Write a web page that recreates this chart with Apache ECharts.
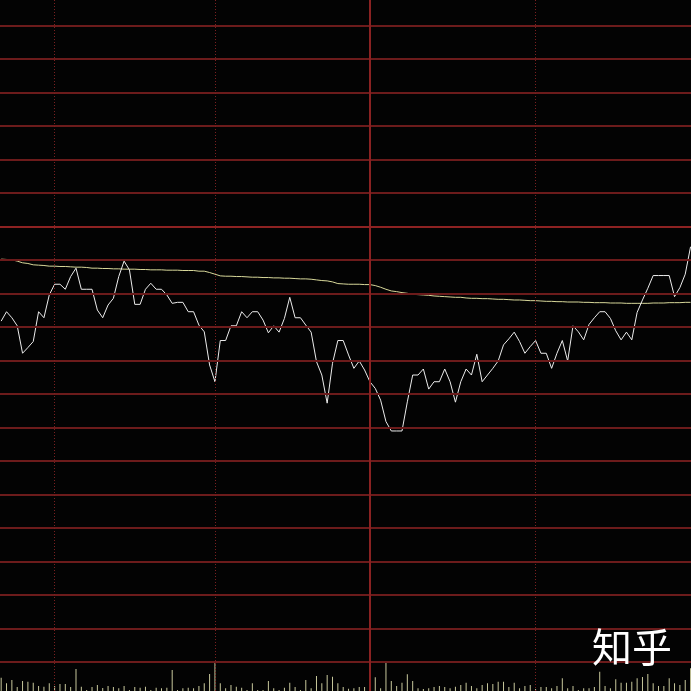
<!DOCTYPE html>
<html><head><meta charset="utf-8">
<script src="https://cdn.jsdelivr.net/npm/echarts@6/dist/echarts.min.js"></script>
<style>html,body{margin:0;padding:0;background:#000;}#c{width:691px;height:691px;}</style>
</head><body><div id="c"></div>
<script>
// minute-by-minute price (grid units relative to previous close = 0)
const price = [
 -2.83,-2.55,-2.73,-2.97,-3.79,-3.62,-3.44,-2.55,-2.73,-2.05,
 -1.73,-1.73,-1.88,-1.50,-1.25,-1.88,-1.88,-1.88,-2.50,-2.73,
 -2.35,-2.15,-1.50,-1.04,-1.30,-2.33,-2.33,-1.88,-1.70,-1.88,
 -1.88,-2.05,-2.30,-2.27,-2.27,-2.55,-2.55,-2.95,-3.15,-4.14,
 -4.64,-3.41,-3.41,-2.97,-2.97,-2.55,-2.73,-2.55,-2.55,-2.80,
 -3.18,-2.97,-3.16,-2.75,-2.12,-2.73,-2.73,-2.95,-3.16,-4.04,
 -4.44,-5.28,-4.09,-3.41,-3.41,-3.84,-4.24,-4.02,-4.29,-4.64,
 -4.84,-5.19,-5.83,-6.11,-6.11,-6.11,-5.24,-4.44,-4.44,-4.26,
 -4.86,-4.64,-4.64,-4.26,-4.64,-5.25,-4.64,-4.26,-4.44,-3.82,
 -4.64,-4.44,-4.24,-4.02,-3.54,-3.36,-3.16,-3.44,-3.79,-3.59,
 -3.41,-3.79,-3.79,-4.24,-3.79,-3.41,-4.02,-2.97,-3.15,-3.39,
 -2.93,-2.73,-2.55,-2.55,-2.75,-3.12,-3.39,-3.16,-3.39,-2.57,
 -2.20,-1.85,-1.47,-1.47,-1.47,-1.47,-2.10,-1.83,-1.43,-0.61
];
// average price line
const avgPrice = [
 -0.98,-0.99,-1.00,-1.04,-1.09,-1.11,-1.15,-1.16,-1.17,-1.19,
 -1.19,-1.20,-1.20,-1.21,-1.22,-1.22,-1.23,-1.25,-1.25,-1.26,
 -1.26,-1.27,-1.27,-1.28,-1.28,-1.28,-1.29,-1.29,-1.30,-1.30,
 -1.30,-1.31,-1.31,-1.31,-1.32,-1.32,-1.32,-1.34,-1.34,-1.38,
 -1.43,-1.48,-1.49,-1.49,-1.50,-1.50,-1.51,-1.52,-1.52,-1.53,
 -1.53,-1.54,-1.54,-1.55,-1.55,-1.56,-1.57,-1.57,-1.58,-1.60,
 -1.62,-1.63,-1.66,-1.71,-1.72,-1.73,-1.73,-1.73,-1.74,-1.74,
 -1.77,-1.82,-1.88,-1.93,-1.95,-1.98,-2.00,-2.03,-2.04,-2.05,
 -2.06,-2.08,-2.09,-2.10,-2.11,-2.12,-2.12,-2.14,-2.15,-2.15,
 -2.16,-2.16,-2.17,-2.18,-2.18,-2.19,-2.20,-2.20,-2.21,-2.22,
 -2.22,-2.23,-2.24,-2.24,-2.25,-2.25,-2.26,-2.26,-2.26,-2.27,
 -2.27,-2.28,-2.28,-2.28,-2.29,-2.29,-2.29,-2.30,-2.30,-2.30,
 -2.30,-2.30,-2.29,-2.29,-2.29,-2.28,-2.28,-2.28,-2.27,-2.27
];
// volume per minute
const volume = [
 13.3,7.7,11,4,10,9.3,8.3,5,4.3,7.7,
 5,7,7,4,22,4.3,1,4,6,3,
 5,4,2.7,5,1,4,3.3,4.3,1,3.3,
 2.7,3.3,21,1,2.7,3.3,2.7,5,7.7,17,
 29.3,7.7,2.7,6,4.3,3.3,1,7.7,1,1,
 10,2.7,1,3.3,8.3,4,1,11,2.7,15,
 7.7,16,14.3,7.7,4,2.3,2.7,4,4,3,
 13.7,2.7,30,10,5,8.3,16.7,10,2.7,2,
 2.7,4,5,4,2.7,4.3,6,8.3,5,2.7,
 6,7.7,7,9.3,9.3,4,8.3,2.7,5,6,
 2,4,4,2.7,5,12.7,2.7,5,1,2.7,
 2.7,4,19.3,5,2.7,11.7,8.3,8.3,9.3,12.7,
 14,17,7.7,5,5,12.7,7.7,6,11,22.7
];
// horizontal price levels (grid units), previous close = 0
const priceLevels = [6,5,4,3,2,1,-1,-2,-3,-4,-5,-6,-7,-8,-9,-10,-11,-12,-13];
const prevClose = 0;
const dottedTimeMarks = [10, 40, 100];
const middayMark = [69];
const watermark = '知乎';

const pricePts = price.map((v, i) => [i, v]);
const avgPts = avgPrice.map((v, i) => [i, v]);
const volPts = volume.map((v, i) => [i, v]);

const chart = echarts.init(document.getElementById('c'));
const xMin = -0.22, xMax = 129.08;
const yMin = -13.872, yMax = 6.755;
chart.setOption({
  backgroundColor: '#030303',
  animation: false,
  grid: [
    {left: 0, right: 0, top: 0, bottom: 0, containLabel: false, outerBoundsMode: 'none'},
    {left: 0, right: 0, top: 651, bottom: 0, containLabel: false, outerBoundsMode: 'none'}
  ],
  xAxis: [
    {type: 'value', min: xMin, max: xMax, show: false, splitLine: {show: false}},
    {type: 'value', gridIndex: 1, min: xMin, max: xMax, show: false, splitLine: {show: false}}
  ],
  yAxis: [
    {type: 'value', min: yMin, max: yMax, show: false, splitLine: {show: false}},
    {type: 'value', gridIndex: 1, min: 0, max: 40, show: false, splitLine: {show: false}}
  ],
  graphic: [{
    type: 'text', left: 592, top: 627, z: 100,
    style: {text: watermark, fill: '#ffffff', font: '40px "Noto Sans CJK SC"'}
  }],
  series: [
    {
      type: 'line', name: 'marks', data: [], z: 1, silent: true,
      markLine: {
        silent: true, symbol: 'none', label: {show: false}, animation: false,
        data: [
          ...priceLevels.map(y => ({yAxis: y, lineStyle: {color: '#6c1b1b', type: 'solid', width: 2}})),
          ...dottedTimeMarks.map(x => ({xAxis: x, lineStyle: {color: '#7a2020', type: [1, 2], width: 1}})),
          ...middayMark.map(x => ({xAxis: x, lineStyle: {color: '#8a2222', type: 'solid', width: 2}})),
          {yAxis: prevClose, lineStyle: {color: '#8e2222', type: 'solid', width: 2}}
        ]
      }
    },
    {
      type: 'bar', name: 'volume', xAxisIndex: 1, yAxisIndex: 1, data: volPts,
      barWidth: 1, itemStyle: {color: '#c8c89c'}, z: 2
    },
    {
      type: 'line', name: 'avg', data: avgPts, symbol: 'none', z: 3,
      lineStyle: {color: '#d8d89a', width: 1}
    },
    {
      type: 'line', name: 'price', data: pricePts, symbol: 'none', z: 4,
      lineStyle: {color: '#ececec', width: 1}
    }
  ]
});
</script>
</body></html>
